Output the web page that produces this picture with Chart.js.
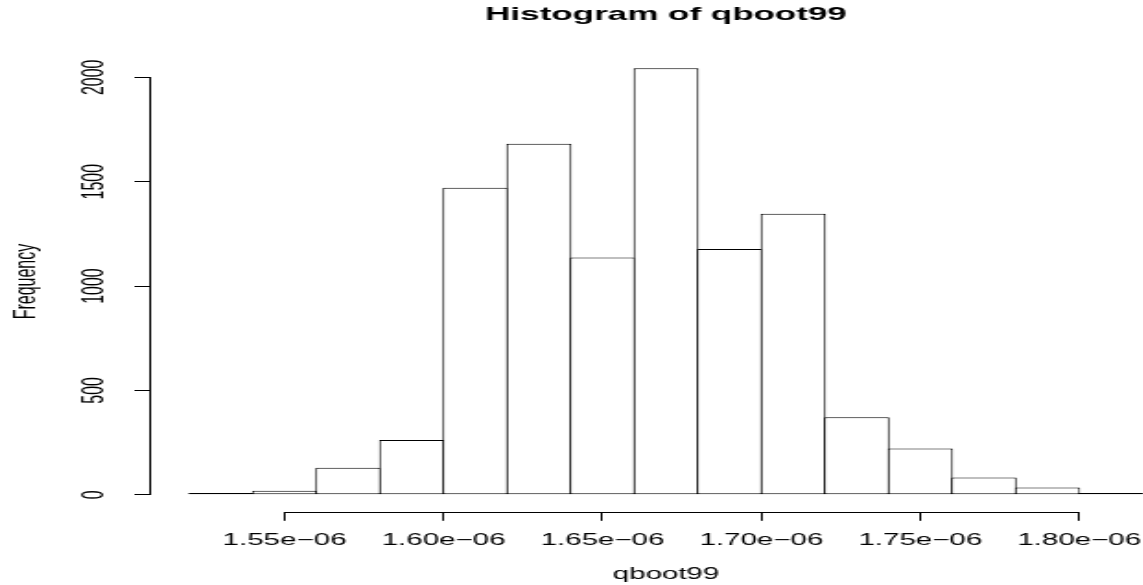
<!DOCTYPE html>
<html>
<head>
<meta charset="utf-8">
<script src="https://cdn.jsdelivr.net/npm/chart.js@4.4.1/dist/chart.umd.min.js"></script>
<style>
    html, body { margin: 0; padding: 0; background: #fff; overflow: hidden; }
    /* The reference is an R plot that was stretched sideways, so the chart is
       drawn narrow and widened with a transform to get the same wide glyphs.
       Its plot region runs past the right edge of the window, as in R. */
    #wrap { width: 641px; height: 585px; transform: scaleX(1.8424); transform-origin: 0 0; }
</style>
</head>
<body>
<div id="wrap"><canvas id="hist"></canvas></div>
<script>
// x values are in units of 1e-06
const binStarts = [1.52, 1.54, 1.56, 1.58, 1.60, 1.62, 1.64, 1.66, 1.68, 1.70, 1.72, 1.74, 1.76, 1.78, 1.80];
const binWidth = 0.02;
const counts = [8, 19, 129, 262, 1471, 1682, 1137, 2043, 1177, 1346, 371, 222, 83, 35, 8];

const xTicks = [1.55, 1.60, 1.65, 1.70, 1.75, 1.80];
const xTickLabels = ['1.55e\u221206', '1.60e\u221206', '1.65e\u221206', '1.70e\u221206', '1.75e\u221206', '1.80e\u221206'];
const yTicks = [0, 500, 1000, 1500, 2000];

// R pads the data range by 4% on every side
const xMin = 1.508;
const xMax = 1.832;
const yMin = -81.7;
const yMax = 2124.7;

const FONT = "'Liberation Sans', Arial, Helvetica, sans-serif";

// R draws its axis lines only from the first to the last tick
const axisLines = {
    id: 'axisLines',
    afterDatasetsDraw(chart) {
        const { ctx, scales: { x, y } } = chart;
        const ax = Math.round(y.right) - 0.5;
        const ay = Math.round(x.top) + 0.5;
        ctx.save();
        ctx.strokeStyle = '#000';
        ctx.lineWidth = 1;
        ctx.beginPath();
        ctx.moveTo(x.getPixelForValue(xTicks[0]), ay);
        ctx.lineTo(x.getPixelForValue(xTicks[xTicks.length - 1]), ay);
        ctx.moveTo(ax, y.getPixelForValue(yTicks[0]));
        ctx.lineTo(ax, y.getPixelForValue(yTicks[yTicks.length - 1]));
        ctx.stroke();
        ctx.restore();
    },
};

const canvas = document.getElementById('hist');
const barSize = binWidth * (641 - 82) / (xMax - xMin);

new Chart(canvas, {
    type: 'bar',
    data: {
        datasets: [{
            data: binStarts.map((s, i) => ({ x: s + binWidth / 2, y: counts[i] })),
            backgroundColor: '#fff',
            borderColor: '#000',
            borderWidth: 1,
            borderSkipped: false,
            // one pixel wider so neighbouring borders overlap into a single line
            barPercentage: (barSize + 1) / barSize,
            categoryPercentage: 1,
        }],
    },
    options: {
        responsive: true,
        maintainAspectRatio: false,
        animation: false,
        devicePixelRatio: 1,
        layout: { padding: 0 },
        plugins: {
            legend: { display: false },
            tooltip: { enabled: false },
            title: {
                display: true,
                fullSize: false,
                text: 'Histogram of qboot99',
                color: '#000',
                font: { family: FONT, size: 19, weight: 'bold' },
                padding: { top: 3, bottom: 25.5 },
            },
        },
        scales: {
            x: {
                type: 'linear',
                offset: false,
                min: xMin,
                max: xMax,
                afterBuildTicks: (s) => { s.ticks = xTicks.map((v) => ({ value: v })); },
                afterFit: (s) => { s.height = 73.2; s.paddingLeft = 0; s.paddingRight = 0; },
                border: { display: false },
                grid: { offset: false, drawOnChartArea: false, drawTicks: true, tickLength: 9, color: '#000', lineWidth: 1 },
                ticks: {
                    autoSkip: false,
                    maxRotation: 0,
                    padding: 10,
                    color: '#000',
                    font: { family: FONT, size: 16 },
                    callback: (v, i) => xTickLabels[i],
                },
                title: {
                    display: true,
                    text: 'qboot99',
                    color: '#000',
                    font: { family: FONT, size: 16 },
                    padding: { top: 0, bottom: 1 },
                },
            },
            y: {
                min: yMin,
                max: yMax,
                afterBuildTicks: (s) => { s.ticks = yTicks.map((v) => ({ value: v })); },
                afterFit: (s) => { s.width = 82; s.paddingTop = 0; s.paddingBottom = 0; },
                border: { display: false },
                grid: { drawOnChartArea: false, drawTicks: true, tickLength: 9, color: '#000', lineWidth: 1 },
                ticks: {
                    minRotation: 90,
                    maxRotation: 90,
                    crossAlign: 'center',
                    padding: 4,
                    color: '#000',
                    font: { family: FONT, size: 16 },
                    callback: (v) => String(v),
                },
                title: {
                    display: true,
                    text: 'Frequency',
                    color: '#000',
                    font: { family: FONT, size: 16 },
                    padding: { top: 5, bottom: 0 },
                },
            },
        },
    },
    plugins: [axisLines],
});
</script>
</body>
</html>
